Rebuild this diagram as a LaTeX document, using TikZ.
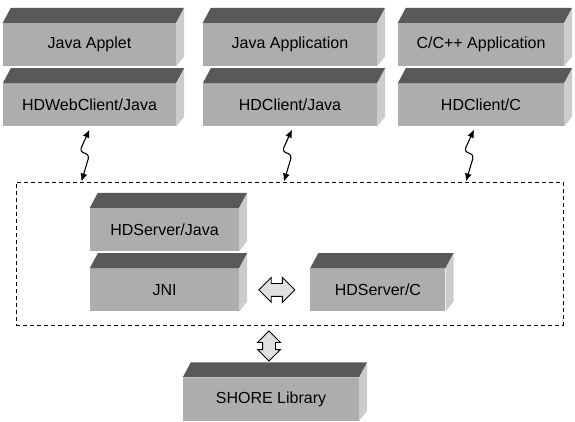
\documentclass[tikz,border=0pt]{standalone}
\usepackage{fontspec}
\setmainfont{Liberation Sans}
\usetikzlibrary{arrows.meta,positioning,shapes.arrows}

\begin{document}
\begin{tikzpicture}[
  x=1pt, y=-1pt,
  font=\fontsize{16}{18}\selectfont,
  % a slab node is only the front face; its top and its right side
  % are filled in afterwards from the node anchors
  slab/.style={fill=black!32, minimum height=43pt, inner sep=0pt},
  slabtop/.style={fill=black!65},
  slabside/.style={fill=black!20},
  frame/.style={draw, dash pattern=on 4pt off 3pt, line width=0.9pt, inner sep=0pt},
  jolt/.style={{Latex[length=8pt,width=7pt]}-{Latex[length=8pt,width=7pt]},
    line width=1.1pt, rounded corners=4pt},
  twoway/.style={double arrow, draw, fill=black!12, line width=0.9pt,
    minimum height=36pt, minimum width=24pt, inner sep=6pt,
    double arrow head extend=6pt}
]
\useasboundingbox (0,0) rectangle (575,422);

% clients
\node[slab, minimum width=173pt] (applet) at (89.5,44.5) {Java Applet};
\node[slab, minimum width=173pt, below=17pt of applet] (webclient) {HDWebClient/Java};
\node[slab, minimum width=174pt] (japp) at (290,44.5) {Java Application};
\node[slab, minimum width=174pt, below=17pt of japp] (jclient) {HDClient/Java};
\node[slab, minimum width=166pt] (capp) at (481,44.5) {C/C++ Application};
\node[slab, minimum width=166pt, below=17pt of capp] (cclient) {HDClient/C};

% server
\node[frame, minimum width=547pt, minimum height=143pt] (server) at (289.5,253.5) {};
\node[slab, minimum width=149pt] (srvjava) at (164.5,229.5) {HDServer/Java};
\node[slab, minimum width=149pt, below=17pt of srvjava] (jni) {JNI};
\node[slab, minimum width=135pt, right=71pt of jni] (srvc) {HDServer/C};
\node[twoway, right=19pt of jni] (bridge) {};

% storage
\node[slab, minimum width=176pt] (shore) at (271,399) {SHORE Library};
\node[twoway, shape border rotate=90, minimum height=30pt, minimum width=22pt,
  inner sep=6pt, double arrow head extend=5pt] (libarrow) at (269,346) {};

\foreach \s in {applet,webclient,japp,jclient,capp,cclient,srvjava,jni,srvc,shore} {
  \fill[slabtop] (\s.north west) -- ++(8pt,15pt)
    -- ([shift={(8pt,15pt)}]\s.north east) -- (\s.north east) -- cycle;
  \fill[slabside] (\s.north east) -- ++(8pt,15pt)
    -- ([shift={(8pt,10pt)}]\s.south east) -- (\s.south east) -- cycle;
}

\foreach \c/\dx in {webclient/-4,jclient/-2,cclient/-11} {
  \draw[jolt] ([xshift=\dx pt+4pt, yshift=-3pt]\c.south) -- ++(-10,22) -- ++(10,3)
    -- ([xshift=\dx pt-4pt]\c.south |- server.north);
}
\end{tikzpicture}
\end{document}
